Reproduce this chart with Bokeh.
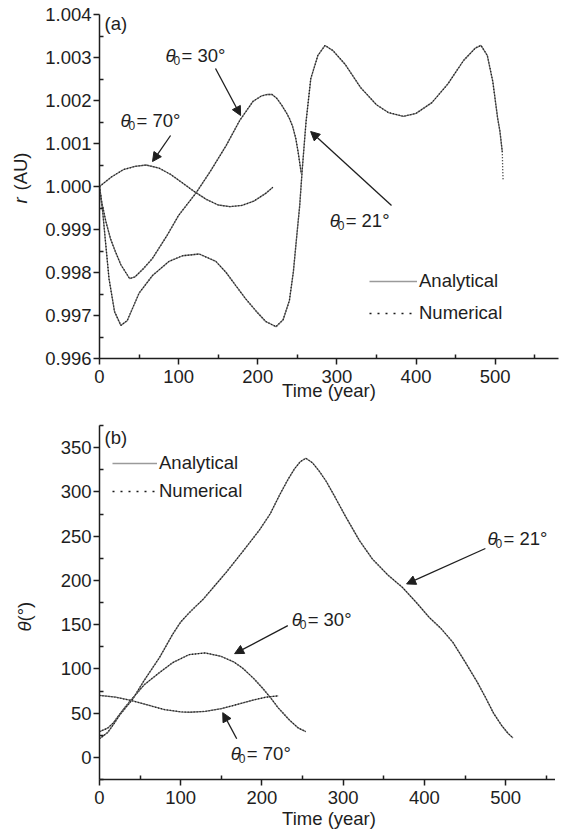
import math
from bokeh.plotting import figure
from bokeh.layouts import column
from bokeh.models import (Label, Arrow, NormalHead, Legend, LegendItem,
                          FixedTicker, NumeralTickFormatter)
from bokeh.embed import file_html
from bokeh.resources import INLINE

# ---------------- data: panel (a) r(t) ----------------
t_r70 = [0, 15, 30, 45, 59, 75, 90, 105, 120, 135, 150, 165, 180, 195, 210, 219]
r70 = [1.0000, 1.00022, 1.00039, 1.00047, 1.00050, 1.00043, 1.00028, 1.00008,
       0.99988, 0.99970, 0.99957, 0.99953, 0.99956, 0.99966, 0.99984, 0.99998]

t_r30 = [0, 3, 8, 14, 20, 27, 38, 45, 55, 67, 85, 100, 122, 140, 160, 177, 194,
         205, 212, 218, 224, 230, 236, 240, 244, 248, 251, 255]
r30 = [1.0000, 0.99962, 0.99919, 0.99878, 0.99849, 0.99818, 0.99786, 0.99790,
       0.99808, 0.99833, 0.99885, 0.99933, 0.99985, 1.00035, 1.00095, 1.00153,
       1.00198, 1.00211, 1.00214, 1.00214, 1.00205, 1.00190, 1.00172, 1.00158,
       1.00140, 1.00112, 1.00080, 1.00030]

t_r21 = [0, 2, 4, 8, 12, 19, 27, 35, 50, 67, 88, 105, 126, 147, 160, 172, 185,
         198, 210, 223, 232, 240, 245, 249, 253, 256, 261, 267, 276, 285, 295,
         310, 330, 350, 365, 384, 400, 420, 440, 460, 475, 482, 490, 497, 503,
         506, 509]
r21 = [1.0000, 0.99970, 0.99942, 0.99863, 0.99786, 0.99709, 0.99677, 0.99688,
       0.99752, 0.99793, 0.99826, 0.99839, 0.99843, 0.99826, 0.99800, 0.99770,
       0.99738, 0.99710, 0.99686, 0.99674, 0.99690, 0.99735, 0.99802, 0.99880,
       0.99956, 1.00035, 1.00151, 1.00251, 1.00305, 1.00328, 1.00316, 1.00285,
       1.00230, 1.00190, 1.00172, 1.00163, 1.00170, 1.00195, 1.00238, 1.00293,
       1.00322, 1.00328, 1.00305, 1.00244, 1.00160, 1.00128, 1.00080]
# numerical run of the 21 deg case goes slightly further
t_r21_tail = [509.5, 510]
r21_tail = [1.00040, 1.00014]

# ---------------- data: panel (b) theta(t) ----------------
t_th21 = [0, 10, 17, 25, 33, 41, 55, 74, 90, 100, 110, 120, 127, 140, 155, 175,
          197, 210, 222, 232, 240, 247, 254, 262, 270, 279, 290, 303, 320, 336,
          355, 373, 390, 406, 420, 435, 450, 465, 475, 485, 495, 503, 509]
th21 = [21, 28, 37, 48, 57, 66, 87, 113, 139, 153, 163, 172, 178, 192, 208, 231,
        257, 275, 297, 314, 326, 334, 338, 333, 324, 312, 294, 272, 245, 224,
        206, 192, 175, 158, 146, 130, 108, 85, 68, 50, 36, 27, 22]

t_th30 = [0, 10, 17, 30, 39, 55, 74, 90, 110, 130, 150, 165, 176, 190, 200, 210,
          220, 234, 245, 254]
th30 = [29, 33, 39, 55, 65, 82, 96, 107, 116, 118, 114, 108, 101, 89, 79, 68,
        56, 42, 33, 29]

t_th70 = [0, 20, 40, 60, 80, 100, 111, 130, 150, 170, 190, 205, 220]
th70 = [70, 68, 64, 59, 54, 51.5, 51, 52, 55, 60, 65, 68, 69.5]

# ---------------- ticks ----------------
x_major = [0, 100, 200, 300, 400, 500]
x_minor = [50, 150, 250, 350, 450, 550]
ya_major = [0.996, 0.997, 0.998, 0.999, 1.000, 1.001, 1.002, 1.003, 1.004]
ya_minor = [0.9965, 0.9975, 0.9985, 0.9995, 1.0005, 1.0015, 1.0025, 1.0035]
yb_major = [0, 50, 100, 150, 200, 250, 300, 350]
yb_minor = [-25, 25, 75, 125, 175, 225, 275, 325, 375]

FONT = "Liberation Sans"
FS = "18.5px"
SUBFS = "12px"
ANA_COLOR = "#707070"
NUM_COLOR = "#1a1a1a"
INK = "#1e1e1e"
NAN = float("nan")


def make_fig(xr, yr, fh, top, bottom, ymaj, ymin, yfmt, title_standoff):
    p = figure(frame_width=459, frame_height=fh,
               x_range=xr, y_range=yr, output_backend="svg",
               toolbar_location=None, min_border_left=94, min_border_right=2,
               min_border_top=top, min_border_bottom=bottom)
    p.outline_line_color = None
    p.xgrid.visible = False
    p.ygrid.visible = False
    p.xaxis.ticker = FixedTicker(ticks=x_major, minor_ticks=x_minor)
    p.yaxis.ticker = FixedTicker(ticks=ymaj, minor_ticks=ymin)
    if yfmt:
        p.yaxis.formatter = NumeralTickFormatter(format=yfmt)
    for ax in (p.xaxis[0], p.yaxis[0]):
        ax.major_tick_out = 6
        ax.major_tick_in = 0
        ax.minor_tick_out = 0
        ax.minor_tick_in = 4
        ax.axis_line_width = 1.5
        ax.major_tick_line_width = 1.5
        ax.minor_tick_line_width = 1.5
        ax.axis_line_color = INK
        ax.major_tick_line_color = INK
        ax.minor_tick_line_color = INK
        ax.major_label_text_font = FONT
        ax.major_label_text_font_size = FS
        ax.major_label_text_color = INK
    p.xaxis.major_label_standoff = 5
    p.yaxis.major_label_standoff = 2
    p.xaxis.axis_label = "Time (year)"
    p.xaxis.axis_label_text_font = FONT
    p.xaxis.axis_label_text_font_size = FS
    p.xaxis.axis_label_text_font_style = "normal"
    p.xaxis.axis_label_text_color = INK
    p.xaxis.axis_label_standoff = title_standoff
    return p


def curve(p, t, y, t_num=None, y_num=None):
    a = p.line(t, y, line_color=ANA_COLOR, line_width=1.3)
    n = p.line(t_num if t_num is not None else t, y_num if y_num is not None else y,
               line_color=NUM_COLOR, line_width=1.3, line_dash="1 2")
    return a, n


def theta_label(p, x, y, deg):
    p.add_layout(Label(x=x, y=y, text="θ", text_font=FONT, text_font_size=FS,
                       text_font_style="italic", text_color=INK,
                       text_baseline="middle", text_align="left"))
    p.add_layout(Label(x=x, y=y, x_offset=8, y_offset=-5, text="0",
                       text_font=FONT, text_font_size=SUBFS, text_color=INK,
                       text_baseline="middle", text_align="left"))
    p.add_layout(Label(x=x, y=y, x_offset=16, text="= %d°" % deg,
                       text_font=FONT, text_font_size=FS, text_color=INK,
                       text_baseline="middle", text_align="left"))


def arrow(p, x0, y0, x1, y1):
    p.add_layout(Arrow(x_start=x0, y_start=y0, x_end=x1, y_end=y1,
                       line_color=INK, line_width=1.3,
                       end=NormalHead(size=9, fill_color=INK, line_color=INK,
                                      line_width=1)))


def legend(p, loc, gw, spacing):
    la = p.line([NAN], [NAN], line_color="#9a9a9a", line_width=1.3)
    ln = p.line([NAN], [NAN], line_color=NUM_COLOR, line_width=1.5, line_dash="2 6")
    lg = Legend(items=[LegendItem(label="Analytical", renderers=[la]),
                       LegendItem(label="Numerical", renderers=[ln])],
                location=loc, glyph_width=gw, glyph_height=20, label_height=20,
                spacing=spacing, padding=0, margin=0, border_line_color=None,
                background_fill_alpha=0, label_text_font=FONT,
                label_text_font_size=FS, label_text_color=INK, label_standoff=2)
    p.add_layout(lg)


def side_label(p, x, y, text, italic):
    p.add_layout(Label(x=x, y=y, x_units="screen", y_units="screen", text=text,
                       angle=math.pi / 2, text_font=FONT, text_font_size=FS,
                       text_font_style="italic" if italic else "normal",
                       text_color=INK, text_baseline="middle", text_align="left"),
                 "left")


# ---------------- panel (a) ----------------
p1 = make_fig((0, 580), (0.996, 1.004), 344, 14, 45, ya_major, ya_minor, "0.000", -6)
curve(p1, t_r70, r70)
curve(p1, t_r30, r30)
curve(p1, t_r21, r21, t_r21 + t_r21_tail, r21 + r21_tail)
legend(p1, (270, 34), 48, 10)
theta_label(p1, 83.4, 1.00305, 30)
arrow(p1, 146.6, 1.002744, 178.3, 1.001651)
theta_label(p1, 26.5, 1.001535, 70)
arrow(p1, 89.8, 1.001186, 67.0, 1.000581)
theta_label(p1, 290.8, 0.99921, 21)
arrow(p1, 369.0, 0.999558, 266.8, 1.001279)
p1.add_layout(Label(x=5, y=335, x_units="screen", y_units="screen", text="(a)",
                    text_font=FONT, text_font_size=FS, text_color=INK,
                    text_baseline="middle"))
side_label(p1, -1, 155, "r", True)
side_label(p1, 20, 168, "(AU)", False)

# ---------------- panel (b) ----------------
p2 = make_fig((0, 565), (-25, 375), 354, 22, 47, yb_major, yb_minor, None, 1)
curve(p2, t_th70, th70)
curve(p2, t_th30, th30)
curve(p2, t_th21, th21)
legend(p2, (24, 277), 45, 6)
theta_label(p2, 477.6, 247, 21)
arrow(p2, 475, 236, 378, 196)
theta_label(p2, 236.5, 155.6, 30)
arrow(p2, 231.8, 148.8, 166.3, 117.2)
theta_label(p2, 161.7, 4.2, 70)
arrow(p2, 168.9, 21.1, 151.7, 50.5)
p2.add_layout(Label(x=5, y=342, x_units="screen", y_units="screen", text="(b)",
                    text_font=FONT, text_font_size=FS, text_color=INK,
                    text_baseline="middle"))
side_label(p2, -12, 148, "θ", True)
side_label(p2, 9, 158, "(°)", False)

layout = column(p1, p2, spacing=0)
open("out.html", "w").write(file_html(layout, INLINE))
